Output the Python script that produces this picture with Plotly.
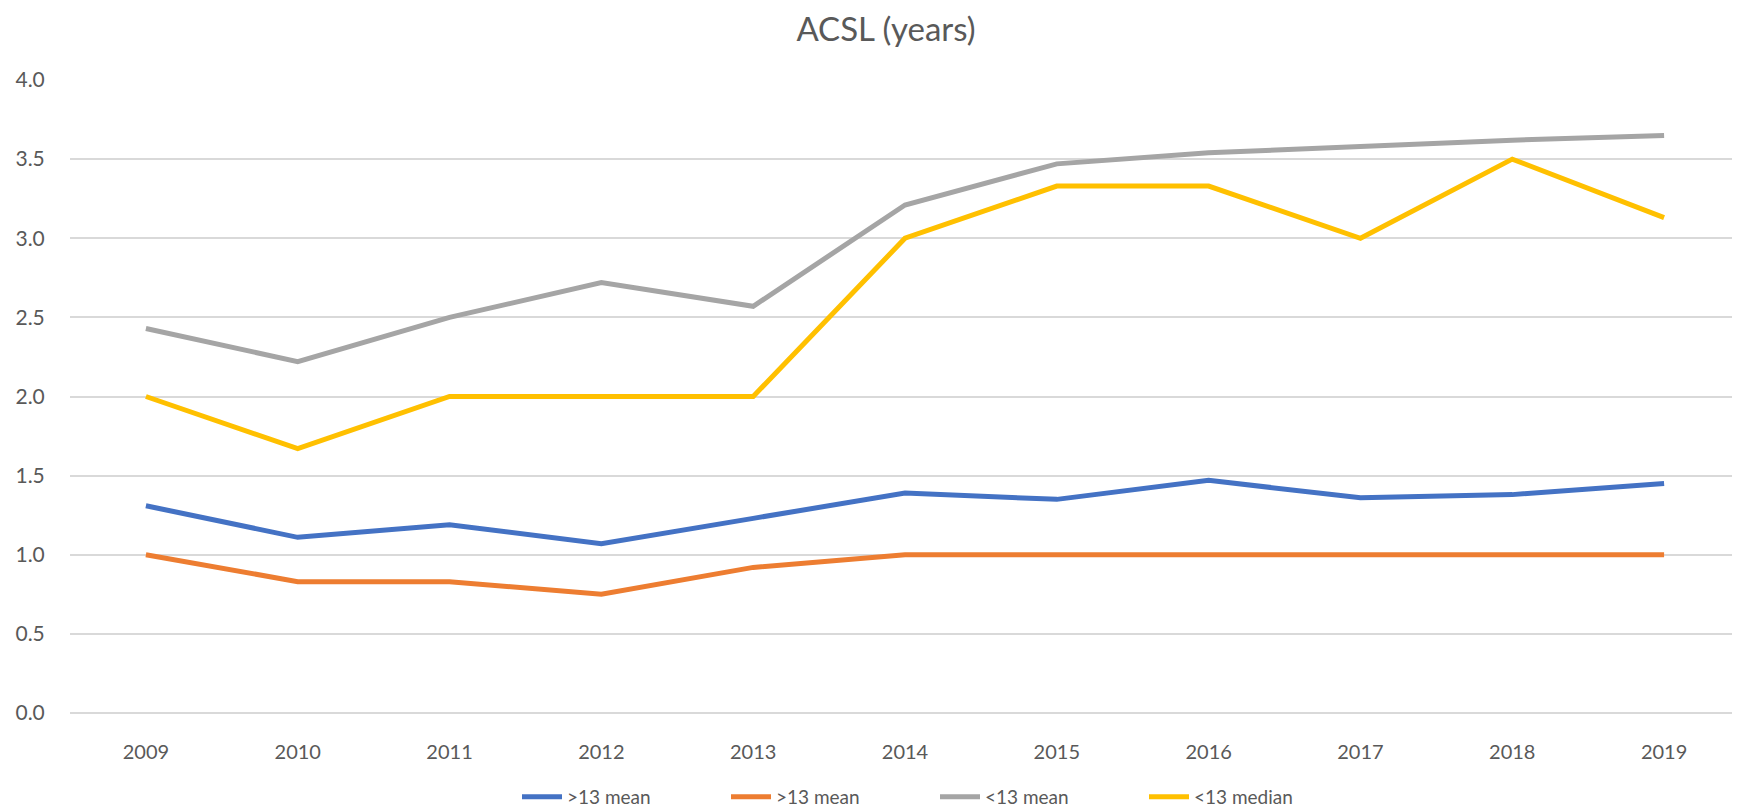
import plotly.graph_objects as go

years = ["2009", "2010", "2011", "2012", "2013", "2014", "2015", "2016", "2017", "2018", "2019"]
gt13_mean_a = [1.31, 1.11, 1.19, 1.07, 1.23, 1.39, 1.35, 1.47, 1.36, 1.38, 1.45]
gt13_mean_b = [1.00, 0.83, 0.83, 0.75, 0.92, 1.00, 1.00, 1.00, 1.00, 1.00, 1.00]
lt13_mean = [2.43, 2.22, 2.50, 2.72, 2.57, 3.21, 3.47, 3.54, 3.58, 3.62, 3.65]
lt13_median = [2.00, 1.67, 2.00, 2.00, 2.00, 3.00, 3.33, 3.33, 3.00, 3.50, 3.13]

series = [
    (">13 mean", gt13_mean_a, "#4472C4"),
    (">13 mean", gt13_mean_b, "#ED7D31"),
    ("<13 mean", lt13_mean, "#A5A5A5"),
    ("<13 median", lt13_median, "#FFC000"),
]

fig = go.Figure()
for name, vals, color in series:
    fig.add_trace(go.Scatter(
        x=years, y=vals, name=name, mode="lines",
        line=dict(color=color, width=5),
    ))

font_family = "Lato, 'Open Sans', sans-serif"
fig.update_layout(
    width=1740, height=812,
    paper_bgcolor="white", plot_bgcolor="white",
    margin=dict(l=62, r=8, t=72, b=107, autoexpand=False),
    title=dict(text="ACSL (years)", x=878/1740, xanchor="center", xref="container",
               y=1 - 21/812, yanchor="middle", yref="container",
               font=dict(family=font_family, size=33, color="#595959")),
    font=dict(family=font_family, color="#595959", size=20),
    showlegend=True,
    legend=dict(orientation="h", x=(509 - 62) / 1670, xanchor="left", yref="container",
                y=1 - 789/812, yanchor="middle", font=dict(size=19, color="#595959"),
                entrywidth=154, itemwidth=40),
    xaxis=dict(type="category", range=[-0.5, 10.5], showgrid=False, showline=False,
               automargin=False,
               ticks="outside", ticklen=21, tickcolor="rgba(0,0,0,0)",
               tickfont=dict(size=20, color="#595959")),
    yaxis=dict(range=[0, 4], dtick=0.5, tickformat=".1f", showgrid=True,
               automargin=False,
               gridcolor="#D9D9D9", gridwidth=1.5, zeroline=True, zerolinecolor="#D9D9D9",
               zerolinewidth=1.5, showline=False,
               ticks="outside", ticklen=20, tickcolor="rgba(0,0,0,0)",
               tickfont=dict(size=21, color="#595959")),
)

fig.write_html("out.html")
